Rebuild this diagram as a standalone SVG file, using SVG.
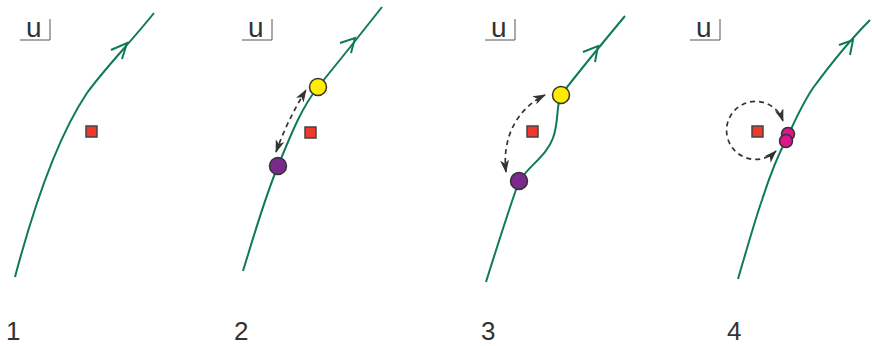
<svg xmlns="http://www.w3.org/2000/svg" width="872" height="346" viewBox="0 0 872 346">
<defs>
<style>
.path{fill:none;stroke:#0e7a5a;stroke-width:2}
.chev{fill:none;stroke:#0e7a5a;stroke-width:2;stroke-linejoin:miter}
.dash{fill:none;stroke:#333;stroke-width:1.7;stroke-dasharray:5,4;marker-start:url(#ah);marker-end:url(#ah)}
.sq{fill:#f0392a;stroke:#444;stroke-width:1.5}
.node{stroke:#333;stroke-width:1.5}
.u{font-family:"Liberation Sans",Arial,sans-serif;font-size:28px;fill:#333}
.num{font-family:"Liberation Sans",Arial,sans-serif;font-size:26px;fill:#333}
.frame{fill:none;stroke:#555;stroke-width:1}
</style>
<marker id="ah" viewBox="0 0 13 9" refX="12" refY="4.5" markerWidth="13" markerHeight="9" markerUnits="userSpaceOnUse" orient="auto-start-reverse">
<path d="M0,0 L13,4.5 L0,9 L3.5,4.5 Z" fill="#333"/>
</marker>
</defs>

<g id="panel1">
<text class="u" x="26" y="37">u</text>
<polyline class="frame" points="20,40 50,40 50,19"/>
<text class="num" x="6" y="340">1</text>
</g>
<g id="panel2">
<text class="u" x="248" y="37">u</text>
<polyline class="frame" points="242,40 272,40 272,19"/>
<text class="num" x="234" y="340">2</text>
</g>
<g id="panel3">
<text class="u" x="491" y="37">u</text>
<polyline class="frame" points="485,40 515,40 515,19"/>
<text class="num" x="481" y="340">3</text>
</g>
<g id="panel4">
<text class="u" x="696" y="37">u</text>
<polyline class="frame" points="690,40 720,40 720,19"/>
<text class="num" x="727" y="340">4</text>
</g>

<g id="connectors">
<path class="path" d="M15,277 C28,228 52,145 87,93 C105,68 130,43 154,13"/>
<polyline class="chev" points="111,50 127,43 122,59"/>
<path class="path" d="M243,271 C255,232 265,197 278,166 C290,137 300,110 318,87 C340,60 360,35 382,7"/>
<polyline class="chev" points="340,43 355,38 351,53"/>
<path class="path" d="M486,282 C496,250 507,215 519,181 C530,165 547,155 553,138 C559,122 556,105 561,95 C580,70 605,40 625,16"/>
<polyline class="chev" points="583,52 598,46 595,62"/>
<path class="path" d="M738,279 C748,245 755,220 762,200 C770,175 778,155 787,138 C795,120 805,100 813,88 C830,65 850,40 870,20"/>
<polyline class="chev" points="839,45 853,40 850,55"/>
<path class="dash" d="M276,152 Q287,121 306,90"/>
<path class="dash" d="M506,172 C502,140 515,110 545,95"/>
<path class="dash" d="M776,151 A29,29 0 1 1 783,121"/>
</g>

<g id="source1"><rect class="sq" x="86" y="126" width="11" height="11"/></g>
<g id="source2"><rect class="sq" x="305" y="127" width="11" height="11"/></g>
<g id="source3"><rect class="sq" x="527" y="126" width="11" height="11"/></g>
<g id="source4"><rect class="sq" x="752" y="126" width="11" height="11"/></g>

<g id="purple2"><circle class="node" cx="278" cy="166" r="8.5" fill="#7a2a8c"/></g>
<g id="yellow2"><circle class="node" cx="318" cy="87" r="8.5" fill="#ffec00"/></g>
<g id="purple3"><circle class="node" cx="519" cy="181" r="8.5" fill="#7a2a8c"/></g>
<g id="yellow3"><circle class="node" cx="561" cy="95" r="8.5" fill="#ffec00"/></g>
<g id="magenta4a"><circle class="node" cx="788" cy="134" r="6.5" fill="#e0138f"/></g>
<g id="magenta4b"><circle class="node" cx="786" cy="141" r="6.5" fill="#e0138f"/></g>
</svg>
